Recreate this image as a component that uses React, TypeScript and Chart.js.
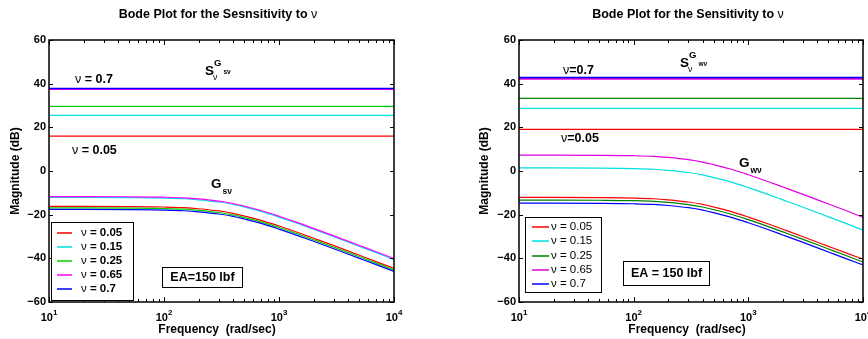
import React, { useEffect, useRef } from "react";
import { Chart, registerables } from "chart.js";

Chart.register(...registerables);

// ---------- data ----------
const FREQ = [10, 20, 50, 100, 150, 200, 300, 400, 500, 700, 1000, 1500, 2000, 3000, 5000, 7000, 10000];
const NU_LABELS = ["0.05", "0.15", "0.25", "0.65", "0.7"];
const Y_TICKS = [60, 40, 20, 0, -20, -40, -60];
const X_DECADES = [10, 100, 1000, 10000];
const X_EXPONENTS = ["1", "2", "3", "4"];

// Left panel (G_sv and its sensitivity)
const LEFT_S = [16.0, 25.5, 29.6, 37.5, 37.8];
const LEFT_G_005 = [-16.2, -16.2, -16.3, -16.5, -16.8, -17.3, -18.3, -19.4, -20.6, -22.6, -25.2, -28.4, -30.8, -34.2, -38.6, -41.5, -44.6];
const LEFT_G_015 = [-12.1, -12.1, -12.2, -12.4, -12.7, -13.2, -14.2, -15.3, -16.5, -18.5, -21.1, -24.3, -26.7, -30.1, -34.5, -37.4, -40.6];
const LEFT_G_025 = [-16.9, -16.9, -17.0, -17.2, -17.5, -18.0, -19.0, -20.1, -21.3, -23.3, -25.9, -29.1, -31.5, -34.9, -39.3, -42.2, -45.3];
const LEFT_G_065 = [-11.7, -11.7, -11.8, -12.0, -12.3, -12.8, -13.8, -14.9, -16.1, -18.1, -20.7, -23.9, -26.3, -29.7, -34.1, -37.0, -40.1];
const LEFT_G_07 = [-17.6, -17.6, -17.7, -17.9, -18.2, -18.7, -19.7, -20.8, -22.0, -24.0, -26.6, -29.8, -32.2, -35.6, -40.0, -42.9, -46.0];

// Right panel (G_wv and its sensitivity)
const RIGHT_S = [19.1, 28.7, 33.3, 42.2, 42.8];
const RIGHT_G_005 = [-12.1, -12.1, -12.2, -12.4, -12.7, -13.2, -14.2, -15.3, -16.5, -18.5, -21.1, -24.3, -26.7, -30.1, -34.5, -37.4, -40.4];
const RIGHT_G_015 = [1.4, 1.4, 1.3, 1.1, 0.8, 0.3, -0.7, -1.8, -3.0, -5.0, -7.6, -10.8, -13.2, -16.6, -21.0, -23.9, -27.1];
const RIGHT_G_025 = [-13.3, -13.3, -13.4, -13.6, -13.9, -14.4, -15.4, -16.5, -17.7, -19.7, -22.3, -25.5, -27.9, -31.3, -35.7, -38.6, -41.7];
const RIGHT_G_065 = [7.3, 7.3, 7.2, 7.0, 6.7, 6.2, 5.2, 4.1, 2.9, 0.9, -1.7, -4.9, -7.3, -10.7, -15.1, -18.0, -21.2];
const RIGHT_G_07 = [-14.7, -14.7, -14.8, -15.0, -15.3, -15.8, -16.8, -17.9, -19.1, -21.1, -23.7, -26.9, -29.3, -32.7, -37.1, -40.0, -43.0];

const LEFT_COLORS = ["#ff0000", "#00e0e0", "#00d000", "#ff00ff", "#0000ff"];
const RIGHT_COLORS = ["#ff0000", "#00e0e0", "#007f00", "#e000e0", "#0000ff"];

const FF = '"Liberation Sans", Arial, Helvetica, sans-serif';
const NU = "\u03bd";

type Run = { t: string; font: string; dy?: number };

function drawRuns(ctx: CanvasRenderingContext2D, runs: Run[], x: number, y: number, align: "left" | "center" = "left") {
  ctx.textBaseline = "middle";
  ctx.textAlign = "left";
  let total = 0;
  for (const r of runs) {
    ctx.font = r.font;
    total += ctx.measureText(r.t).width;
  }
  let cx = align === "center" ? x - total / 2 : x;
  for (const r of runs) {
    ctx.font = r.font;
    ctx.fillText(r.t, cx, y + (r.dy || 0));
    cx += ctx.measureText(r.t).width;
  }
}

const bold = (px: number) => `bold ${px}px ${FF}`;
const normal = (px: number) => `${px}px ${FF}`;

type PanelCfg = {
  padding: { left: number; right: number; top: number; bottom: number };
  colors: string[];
  sVals: number[];
  gVals: number[][];
  title: string;
  titleX: number;
  yTitleX: number;
  xTitleX: number;
  nuHigh: { text: string; x: number; y: number };
  nuLow: { text: string; x: number; y: number };
  sLabel: { x: number; y: number; sub: string };
  gLabel: { x: number; y: number; sub: string };
  legend: { x: number; y: number; w: number; h: number; lineX: number; lineW: number; textX: number; rows: number[]; boldText: boolean };
  ea: { x: number; y: number; w: number; h: number; text: string };
};

const LEFT_CFG: PanelCfg = {
  padding: { left: 49, right: 40, top: 40, bottom: 37 },
  colors: LEFT_COLORS,
  sVals: LEFT_S,
  gVals: [LEFT_G_005, LEFT_G_015, LEFT_G_025, LEFT_G_065, LEFT_G_07],
  title: "Bode Plot for the Sesnsitivity to ",
  titleX: 218,
  yTitleX: 16,
  xTitleX: 217,
  nuHigh: { text: " = 0.7", x: 75, y: 80 },
  nuLow: { text: " = 0.05", x: 72, y: 151 },
  sLabel: { x: 205, y: 71, sub: "s" + NU },
  gLabel: { x: 211, y: 184, sub: "s" + NU },
  legend: { x: 51, y: 222, w: 82, h: 78, lineX: 57, lineW: 15, textX: 81, rows: [233, 247, 261, 275, 289], boldText: true },
  ea: { x: 162, y: 267, w: 80, h: 20, text: "EA=150 lbf" },
};

const RIGHT_CFG: PanelCfg = {
  padding: { left: 85, right: 5, top: 40, bottom: 37 },
  colors: RIGHT_COLORS,
  sVals: RIGHT_S,
  gVals: [RIGHT_G_005, RIGHT_G_015, RIGHT_G_025, RIGHT_G_065, RIGHT_G_07],
  title: "Bode Plot for the Sensitivity to ",
  titleX: 254,
  yTitleX: 51,
  xTitleX: 253,
  nuHigh: { text: "=0.7", x: 129, y: 71 },
  nuLow: { text: "=0.05", x: 127, y: 139 },
  sLabel: { x: 246, y: 63, sub: "w" + NU },
  gLabel: { x: 305, y: 163, sub: "w" + NU },
  legend: { x: 91, y: 217, w: 76, h: 75, lineX: 98, lineW: 17, textX: 117, rows: [227, 241, 256, 270, 284], boldText: false },
  ea: { x: 189, y: 261, w: 86, h: 24, text: "EA = 150 lbf" },
};

function makeOverlay(cfg: PanelCfg) {
  return {
    id: "bodeOverlay",
    afterDraw(chart: any) {
      const { ctx, chartArea: a, scales } = chart;
      const xs = scales.x;
      const ys = scales.y;
      ctx.save();
      ctx.fillStyle = "#000";
      ctx.strokeStyle = "#000";

      // frame
      ctx.lineWidth = 1.5;
      ctx.strokeRect(a.left, a.top, a.right - a.left, a.bottom - a.top);

      // x ticks (major + minor), inward, top and bottom
      ctx.lineWidth = 1;
      for (const dec of [10, 100, 1000, 10000]) {
        for (let m = 1; m <= 9; m++) {
          const v = dec * m;
          if (v > 10000) break;
          const px = Math.round(xs.getPixelForValue(v)) + 0.5;
          const len = m === 1 ? 5 : 3;
          ctx.beginPath();
          ctx.moveTo(px, a.bottom);
          ctx.lineTo(px, a.bottom - len);
          ctx.moveTo(px, a.top);
          ctx.lineTo(px, a.top + len);
          ctx.stroke();
        }
      }
      // y ticks
      for (const v of Y_TICKS) {
        const py = Math.round(ys.getPixelForValue(v)) + 0.5;
        ctx.beginPath();
        ctx.moveTo(a.left, py);
        ctx.lineTo(a.left + 4, py);
        ctx.moveTo(a.right, py);
        ctx.lineTo(a.right - 4, py);
        ctx.stroke();
      }

      // y tick labels
      ctx.font = bold(11);
      ctx.textAlign = "right";
      ctx.textBaseline = "middle";
      for (const v of Y_TICKS) {
        const py = ys.getPixelForValue(v);
        const label = v < 0 ? "\u2212" + Math.abs(v) : String(v);
        ctx.fillText(label, a.left - 3, py);
      }

      // x tick labels 10^n
      X_DECADES.forEach((d, i) => {
        const px = xs.getPixelForValue(d);
        drawRuns(ctx, [
          { t: "10", font: bold(11) },
          { t: X_EXPONENTS[i], font: bold(8), dy: -5 },
        ], px, 318, "center");
      });

      // title
      drawRuns(ctx, [
        { t: cfg.title, font: bold(12.5) },
        { t: NU, font: normal(12.5) },
      ], cfg.titleX, 15, "center");

      // x title
      drawRuns(ctx, [{ t: "Frequency  (rad/sec)", font: bold(12) }], cfg.xTitleX, 330, "center");

      // y title
      ctx.save();
      ctx.translate(cfg.yTitleX, (a.top + a.bottom) / 2);
      ctx.rotate(-Math.PI / 2);
      drawRuns(ctx, [{ t: "Magnitude (dB)", font: bold(12) }], 0, 0, "center");
      ctx.restore();

      // nu annotations
      drawRuns(ctx, [{ t: NU, font: normal(12.5) }, { t: cfg.nuHigh.text, font: bold(12.5) }], cfg.nuHigh.x, cfg.nuHigh.y);
      drawRuns(ctx, [{ t: NU, font: normal(12.5) }, { t: cfg.nuLow.text, font: bold(12.5) }], cfg.nuLow.x, cfg.nuLow.y);

      // S label  S_nu^{G_sub}
      {
        const { x, y, sub } = cfg.sLabel;
        ctx.textAlign = "left";
        ctx.textBaseline = "middle";
        ctx.font = bold(13.5);
        ctx.fillText("S", x, y);
        const w = ctx.measureText("S").width;
        ctx.font = bold(9.5);
        ctx.fillText("G", x + w, y - 8);
        const gw = ctx.measureText("G").width;
        ctx.font = normal(8.5);
        ctx.fillText(NU, x + w - 1, y + 7);
        ctx.font = bold(6.5);
        ctx.fillText(sub, x + w + gw + 2, y + 1);
      }

      // G label
      {
        const { x, y, sub } = cfg.gLabel;
        ctx.textAlign = "left";
        ctx.textBaseline = "middle";
        ctx.font = bold(13.5);
        ctx.fillText("G", x, y);
        const w = ctx.measureText("G").width;
        ctx.font = bold(8.5);
        ctx.fillText(sub, x + w + 1, y + 8);
      }

      // legend
      {
        const L = cfg.legend;
        ctx.fillStyle = "#fff";
        ctx.fillRect(L.x, L.y, L.w, L.h);
        ctx.strokeStyle = "#000";
        ctx.lineWidth = 1;
        ctx.strokeRect(L.x + 0.5, L.y + 0.5, L.w, L.h);
        NU_LABELS.forEach((lab, i) => {
          const ry = L.rows[i];
          ctx.strokeStyle = cfg.colors[i];
          ctx.lineWidth = 1.5;
          ctx.beginPath();
          ctx.moveTo(L.lineX, ry);
          ctx.lineTo(L.lineX + L.lineW, ry);
          ctx.stroke();
          ctx.fillStyle = "#000";
          const f = L.boldText ? bold(11.5) : normal(11.5);
          drawRuns(ctx, [{ t: NU, font: normal(11.5) }, { t: " = " + lab, font: f }], L.textX, ry);
        });
      }

      // EA box
      {
        const E = cfg.ea;
        ctx.fillStyle = "#fff";
        ctx.fillRect(E.x, E.y, E.w, E.h);
        ctx.strokeStyle = "#000";
        ctx.lineWidth = 1;
        ctx.strokeRect(E.x + 0.5, E.y + 0.5, E.w, E.h);
        ctx.fillStyle = "#000";
        drawRuns(ctx, [{ t: E.text, font: bold(12.5) }], E.x + E.w / 2 + 0.5, E.y + E.h / 2 + 1, "center");
      }

      ctx.restore();
    },
  };
}

function Panel({ cfg, left }: { cfg: PanelCfg; left: number }) {
  const ref = useRef<HTMLCanvasElement | null>(null);
  useEffect(() => {
    if (!ref.current) return;
    const datasets: any[] = [];
    // sensitivity (flat) lines; later series drawn on top
    cfg.sVals.forEach((v, i) => {
      datasets.push({
        data: [{ x: FREQ[0], y: v }, { x: FREQ[FREQ.length - 1], y: v }],
        borderColor: cfg.colors[i],
        borderWidth: i >= 3 ? 1.6 : 1.2,
        pointRadius: 0,
        fill: false,
        tension: 0,
        order: 10 - i,
      });
    });
    // transfer function curves
    cfg.gVals.forEach((vals, i) => {
      datasets.push({
        data: FREQ.map((f, k) => ({ x: f, y: vals[k] })),
        borderColor: cfg.colors[i],
        borderWidth: 1.2,
        pointRadius: 0,
        fill: false,
        cubicInterpolationMode: "monotone",
        order: 10 - i,
      });
    });
    const chart = new Chart(ref.current, {
      type: "line",
      data: { datasets },
      options: {
        animation: false,
        responsive: false,
        devicePixelRatio: 1,
        layout: { padding: cfg.padding },
        plugins: { legend: { display: false }, tooltip: { enabled: false }, title: { display: false } },
        scales: {
          x: { type: "logarithmic", min: 10, max: 10000, display: false },
          y: { type: "linear", min: -60, max: 60, display: false },
        },
        elements: { point: { radius: 0 } },
      } as any,
      plugins: [makeOverlay(cfg)],
    });
    return () => chart.destroy();
  }, [cfg]);
  return (
    <canvas
      ref={ref}
      width={434}
      height={339}
      style={{ position: "absolute", left, top: 0, width: 434, height: 339 }}
    />
  );
}

export default function App() {
  return (
    <div style={{ position: "absolute", left: 0, top: 0, width: 868, height: 339, background: "#fff", overflow: "hidden" }}>
      <Panel cfg={LEFT_CFG} left={0} />
      <Panel cfg={RIGHT_CFG} left={434} />
    </div>
  );
}
